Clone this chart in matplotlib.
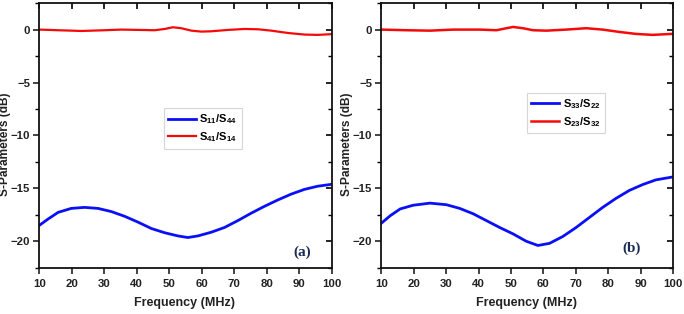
import matplotlib
matplotlib.use("Agg")
import matplotlib.pyplot as plt
from matplotlib.ticker import MultipleLocator

plt.rcParams['font.family'] = ['Liberation Sans', 'DejaVu Sans']
plt.rcParams['font.weight'] = 'bold'
plt.rcParams['mathtext.fontset'] = 'custom'
plt.rcParams['mathtext.rm'] = 'Liberation Sans:bold'
plt.rcParams['mathtext.it'] = 'Liberation Sans:bold'
plt.rcParams['mathtext.bf'] = 'Liberation Sans:bold'

# ---- data (a) ----
freq_a_blue = [10, 12.7, 15.8, 19.8, 23.9, 28.1, 32.2, 36.3, 40.4, 44.5, 48.6, 52.7, 55.7,
               58.8, 62.9, 67.0, 71.1, 75.2, 79.3, 83.4, 87.5, 91.6, 95.7, 100]
s11_s44 = [-18.5, -17.9, -17.27, -16.9, -16.8, -16.9, -17.2, -17.65, -18.2, -18.8, -19.2,
           -19.5, -19.65, -19.5, -19.15, -18.7, -18.05, -17.35, -16.7, -16.1, -15.55,
           -15.1, -14.8, -14.62]
freq_a_red = [10, 15.8, 23, 30.1, 35.2, 40.4, 45.5, 48.6, 51.1, 53.7, 56.8, 59.9, 62.9,
              68.1, 73.2, 77.3, 81.4, 86.5, 91.6, 95.7, 100]
s41_s14 = [0.0, -0.06, -0.13, -0.06, 0.0, -0.03, -0.06, 0.06, 0.22, 0.13, -0.1, -0.19,
           -0.16, -0.03, 0.06, 0.03, -0.1, -0.32, -0.47, -0.5, -0.43]

# ---- data (b) ----
freq_b_blue = [10, 12.7, 15.8, 19.8, 25.0, 30.1, 34.2, 38.3, 42.4, 46.5, 50.6, 54.7, 58.3,
               61.9, 66.0, 70.1, 74.2, 78.3, 82.4, 86.5, 90.6, 94.7, 100]
s33_s22 = [-18.3, -17.6, -16.95, -16.6, -16.4, -16.55, -16.9, -17.4, -18.05, -18.7, -19.3,
           -20.0, -20.4, -20.2, -19.55, -18.7, -17.75, -16.8, -15.95, -15.2, -14.65,
           -14.2, -13.92]
freq_b_red = [10, 17.8, 25, 32.2, 40.4, 45.5, 50.6, 53.7, 56.8, 60.9, 67.0, 73.2, 78.3,
              83.4, 88.6, 93.7, 100]
s23_s32 = [0.0, -0.06, -0.1, 0.0, 0.0, -0.06, 0.25, 0.13, -0.06, -0.1, 0.0, 0.13, 0.0,
           -0.22, -0.41, -0.5, -0.4]

xlim = (10, 100)
ylim = (-22.5, 2.5)
xticks = [10, 20, 30, 40, 50, 60, 70, 80, 90, 100]
yticks = [0, -5, -10, -15, -20]

fig = plt.figure(figsize=(6.84, 3.14), dpi=100)
ax_a = fig.add_axes([0.0575, 0.1475, 0.4275, 0.8425])
ax_b = fig.add_axes([0.5575, 0.1475, 0.4265, 0.8425])

def style(ax, legend_pos, panel, panel_pos):
    ax.set_xlim(*xlim)
    ax.set_ylim(*ylim)
    ax.set_xticks(xticks)
    ax.set_yticks(yticks)
    ax.yaxis.set_minor_locator(MultipleLocator(2.5))
    ax.tick_params(axis='both', which='major', direction='out', length=4, width=1.2,
                   labelsize=8.2, colors='#222222')
    ax.tick_params(axis='x', which='major', pad=4.5)
    ax.tick_params(axis='y', which='major', pad=2.5)
    ax.tick_params(axis='y', which='minor', direction='out', length=3, width=1.0)
    for s in ax.spines.values():
        s.set_linewidth(1.3)
        s.set_color('#111111')
    sx = ax.secondary_xaxis('top')
    sx.set_xticks(xticks)
    sx.tick_params(direction='in', length=4, width=1.2, labeltop=False)
    sx.spines['top'].set_visible(False)
    sy = ax.secondary_yaxis('right')
    sy.set_yticks(yticks)
    sy.yaxis.set_minor_locator(MultipleLocator(2.5))
    sy.tick_params(which='major', direction='in', length=4, width=1.2, labelright=False)
    sy.tick_params(which='minor', direction='in', length=3, width=1.0, labelright=False)
    sy.spines['right'].set_visible(False)
    ax.set_xlabel('Frequency (MHz)', fontsize=9, fontweight='bold', color='#222222')
    ax.xaxis.set_label_coords(0.498, -0.112)
    ax.set_ylabel('S-Parameters (dB)', fontsize=8.6, fontweight='bold', color='#222222')
    ax.yaxis.set_label_coords(-0.096, 0.465)
    leg = ax.legend(loc='upper left', bbox_to_anchor=legend_pos, borderaxespad=0,
                    fontsize=8, handlelength=2.5, handletextpad=0.3, frameon=True,
                    fancybox=False, labelspacing=0.35, borderpad=0.4)
    leg.get_frame().set_edgecolor('#cccccc')
    leg.get_frame().set_linewidth(0.8)
    ax.text(panel_pos[0], panel_pos[1], panel, fontsize=11, fontweight='bold',
            family=['Liberation Serif', 'DejaVu Serif'], color='#1a2a55',
            ha='center', va='center')

ax_a.plot(freq_a_blue, s11_s44, color='#0a10f5', lw=2.0, label=r'$\mathrm{S_{11}/S_{44}}$')
ax_a.plot(freq_a_red, s41_s14, color='#f50a0a', lw=1.6, label=r'$\mathrm{S_{41}/S_{14}}$')
style(ax_a, (0.426, 0.603), '(a)', (90.8, -21.05))

ax_b.plot(freq_b_blue, s33_s22, color='#0a10f5', lw=2.0, label=r'$\mathrm{S_{33}/S_{22}}$')
ax_b.plot(freq_b_red, s23_s32, color='#f50a0a', lw=1.8, label=r'$\mathrm{S_{23}/S_{32}}$')
style(ax_b, (0.4995, 0.661), '(b)', (87.3, -20.7))

fig.savefig('out.png', dpi=100)
